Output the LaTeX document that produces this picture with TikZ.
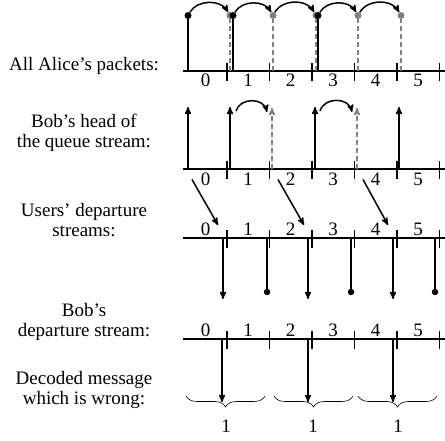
\documentclass[tikz,border=0pt]{standalone}
\usepackage{fontspec}
\setmainfont{Liberation Serif}
\usetikzlibrary{arrows,decorations.pathreplacing}

\begin{document}
\begin{tikzpicture}[
   x=1pt,y=1pt,
   font=\fontsize{19}{20.5}\selectfont,
   >=stealth',
   axis/.style={line width=1.5pt},
   tick/.style={line width=1.5pt},
   stem/.style={line width=1.5pt},
   late/.style={gray,line width=1.5pt,dash pattern=on 5pt off 3pt},
   arw/.style={->,line width=1.5pt},
   hop/.style={->,line width=1.5pt,bend left=60},
   dot/.style={circle,fill,inner sep=0pt,minimum size=7pt},
   lbl/.style={align=center,anchor=base},
   slot/.style={anchor=base,inner sep=0pt},
   brk/.style={decorate,decoration={brace,mirror,amplitude=11pt},line width=0.6pt}]
\useasboundingbox (0,0) rectangle (445,441);

% row labels
\node[lbl] (alice) at (84,370.5) {All Alice's packets:};
\node[lbl] (head) at (84,293) {Bob's head of\\the queue stream:};
\node[lbl] (users) at (84,204) {Users' departure\\streams:};
\node[lbl] (bob) at (84,104) {Bob's\\departure stream:};
\node[lbl] (dec) at (84,36) {Decoded message\\which is wrong:};

% time axes with slot ticks
\foreach \row/\yy in {a/370,h/272,u/203,b/102}{
  \coordinate (\row0) at (183,\yy);
  \coordinate (\row e) at (445,\yy);
  \draw[axis] (\row0) -- (\row e);
  \foreach \n in {1,...,6}{
    \coordinate (\row t\n) at (184.5+42.5*\n,\yy);
    \draw[tick] (\row t\n) ++(0,8) -- ++(0,-18);
  }
}
\foreach \row/\yy in {a/354,h/255,u/205.5,b/104.5}
  \foreach \n in {0,...,5}
    \node[slot] (\row n\n) at (205.5+42.5*\n,\yy) {\n};

% Alice: late copies, then packets
\foreach \k/\xx in {1/230,2/273,3/316,4/358,5/401}{
  \coordinate (ag\k) at (\xx,370);
  \node[dot,gray] (g\k) at (\xx,425.5) {};
  \draw[late] (ag\k) -- (g\k);
}
\foreach \k/\xx in {1/188,2/233,3/318}{
  \coordinate (ap\k) at (\xx,370);
  \node[dot] (p\k) at (\xx,425.5) {};
  \draw[stem] (ap\k) -- (p\k);
}
\draw[hop] (p1) to (g1);
\draw[hop] (p2) to (g2);
\draw[hop] (g2) to (g3);
\draw[hop] (p3) to (g4);
\draw[hop] (g4) to (g5);

% Bob's head of the queue
\coordinate (hb1) at (188,272); \coordinate (hq1) at (188,334);
\coordinate (hb2) at (230,272); \coordinate (hq2) at (230,334);
\coordinate (hb3) at (315,272); \coordinate (hq3) at (315,334);
\coordinate (hb4) at (399,272); \coordinate (hq4) at (399,334);
\coordinate (hgb1) at (272,272); \coordinate (hg1) at (272,333);
\coordinate (hgb2) at (357,272); \coordinate (hg2) at (357,333);
\draw[arw] (hb1) -- (hq1);
\draw[arw] (hb2) -- (hq2);
\draw[arw] (hb3) -- (hq3);
\draw[arw] (hb4) -- (hq4);
\draw[arw,late] (hgb1) -- (hg1);
\draw[arw,late] (hgb2) -- (hg2);
\draw[hop,bend left=75,looseness=1.2] ([xshift=6pt,yshift=-4pt]hq2) to ([xshift=-5pt,yshift=-4pt]hg1);
\draw[hop,bend left=75,looseness=1.2] ([xshift=5pt,yshift=-4pt]hq3) to ([xshift=-5pt,yshift=-4pt]hg2);

% users' departures
\coordinate (ub1) at (223,203); \coordinate (ud1) at (223,142);
\coordinate (ub2) at (308,203); \coordinate (ud2) at (308,142);
\coordinate (ub3) at (393,203); \coordinate (ud3) at (393,142);
\draw[arw] (ub1) -- (ud1);
\draw[arw] (ub2) -- (ud2);
\draw[arw] (ub3) -- (ud3);
\foreach \k/\xx in {1/267,2/351,3/435}{
  \coordinate (ul\k) at (\xx,203);
  \node[dot,minimum size=6.5pt] (ld\k) at (\xx,149) {};
  \draw[stem] (ul\k) -- (ld\k);
}
% head of queue -> users
\coordinate (fs1) at (192,261.5); \coordinate (fe1) at (218,216);
\coordinate (fs2) at (278,261.5); \coordinate (fe2) at (304,216);
\coordinate (fs3) at (363,261.5); \coordinate (fe3) at (388,216);
\draw[arw] (fs1) -- (fe1);
\draw[arw] (fs2) -- (fe2);
\draw[arw] (fs3) -- (fe3);

% Bob's departures and decoded bits
\coordinate (bb1) at (222,102); \coordinate (bd1) at (222,39);
\coordinate (bb2) at (308,102); \coordinate (bd2) at (308,39);
\coordinate (bb3) at (393,102); \coordinate (bd3) at (393,39);
\draw[arw] (bb1) -- (bd1);
\draw[arw] (bb2) -- (bd2);
\draw[arw] (bb3) -- (bd3);
\foreach \k/\lx/\rx/\mx in {1/186/265/226,2/274/353/313,3/358/437/398}{
  \coordinate (kl\k) at (\lx,45);
  \coordinate (kr\k) at (\rx,45);
  \draw[brk] (kl\k) -- (kr\k);
  \node[slot] (bit\k) at (\mx,8) {1};
}
\end{tikzpicture}
\end{document}
